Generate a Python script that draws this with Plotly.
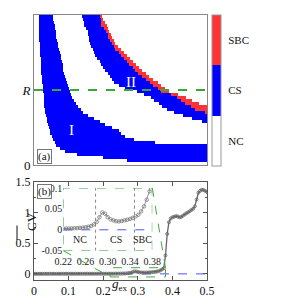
import numpy as np
import plotly.graph_objects as go

# ---------------- data ----------------
# Panel (a): state map on a grid of rows (y = 0..50, one unit per row)
# band I (CS) left/right g_ex bounds per row, rows 0..49
band1_left = [None, 0.27, 0.20, 0.125, 0.090, 0.075, 0.066, 0.061, 0.056, 0.052,
              0.048, 0.045, 0.042, 0.040, 0.038, 0.037, 0.035, 0.033, 0.032, 0.031,
              0.030, 0.029, 0.028, 0.027, 0.026, 0.025, 0.024, 0.023, 0.022, 0.022,
              0.021, 0.021, 0.020, 0.020, 0.019, 0.019, 0.018, 0.018, 0.017, 0.017,
              0.017, 0.016, 0.016, 0.015, 0.015, 0.015, 0.015, 0.015, 0.0145, 0.0145]
band1_right = [None, 0.5, 0.5, 0.5, 0.5, 0.5, 0.5, 0.35, 0.29, 0.262,
               0.25, 0.245, 0.225, 0.205, 0.19, 0.172, 0.155, 0.143, 0.134, 0.127,
               0.121, 0.116, 0.111, 0.107, 0.104, 0.100, 0.097, 0.094, 0.092, 0.090,
               0.088, 0.086, 0.084, 0.082, 0.080, 0.078, 0.077, 0.075, 0.073, 0.071,
               0.069, 0.067, 0.066, 0.064, 0.062, 0.060, 0.059, 0.057, 0.055, 0.054]
# band II: CS start, SBC start (None = no SBC), SBC end, rows 0..49
band2_start = [None] * 14 + [
    0.4855, 0.458, 0.429, 0.404, 0.384, 0.371, 0.359, 0.348, 0.337, 0.3165,
    0.298, 0.262, 0.244, 0.233, 0.224, 0.219, 0.213, 0.206, 0.200, 0.1945,
    0.189, 0.183, 0.178, 0.1725, 0.169, 0.1656, 0.162, 0.160, 0.159, 0.1575,
    0.154, 0.149, 0.146, 0.1445, 0.142, 0.141]
band2_sbc_start = [None] * 17 + [
    0.494, 0.466, 0.455, 0.4355, 0.426, 0.413, 0.394, 0.367, 0.3575, 0.3457,
    0.334, 0.3237, 0.312, 0.301, 0.2925, 0.284, 0.275, 0.2676, 0.260, 0.252,
    0.244, 0.234, 0.229, 0.2246, 0.220, 0.216, 0.2118, 0.208, 0.2017, 0.196,
    0.194, 0.1916, 0.1893]
band2_sbc_end = [None] * 17 + [
    0.5, 0.5, 0.5, 0.4775, 0.458, 0.439, 0.416, 0.389, 0.3806, 0.368,
    0.3564, 0.345, 0.3335, 0.3237, 0.3116, 0.303, 0.2945, 0.2847, 0.277, 0.268,
    0.2595, 0.251, 0.2416, 0.2344, 0.230, 0.2257, 0.2217, 0.2176, 0.2136, 0.209,
    0.2043, 0.1997, 0.1965]
state_labels = ["NC", "CS", "SBC"]
R_value = 25

# Panel (b): mean CV vs g_ex
g_ex = [round(0.005 * k, 3) for k in range(101)]
cv = [0.0005, 0.0005, 0.0006, 0.0006, 0.0007, 0.0008, 0.0007, 0.0008, 0.0009, 0.0009,
      0.0010, 0.0011, 0.0010, 0.0011, 0.0012, 0.0012, 0.0013, 0.0012, 0.0014, 0.0014,
      0.0015, 0.0016, 0.0015, 0.0016, 0.0017, 0.0017, 0.0018, 0.0019, 0.0018, 0.0019,
      0.0020, 0.0020, 0.0021, 0.0022, 0.0021, 0.0022, 0.0023, 0.0023, 0.0024, 0.0024,
      0.0025, 0.0026, 0.0025, 0.0026,
      0.0027, 0.0030, 0.0031, 0.0034, 0.0037, 0.0040, 0.0045, 0.0052, 0.0060, 0.0072,
      0.0090, 0.0130, 0.0190, 0.0300, 0.0415, 0.0385, 0.0300, 0.0250, 0.0225, 0.0205,
      0.0200, 0.0210, 0.0225, 0.0240, 0.0260, 0.0285, 0.0320, 0.0360, 0.0440, 0.0560,
      0.0720, 0.0920, 0.3000, 0.6500, 0.8400, 0.9000, 0.9200, 0.9300, 0.9400, 0.9350,
      0.9200, 0.9250, 0.9450, 0.9650, 0.9850, 1.0000, 1.0200, 1.0400, 1.0600, 1.1000,
      1.2100, 1.3200, 1.3500, 1.3700, 1.3650, 1.3500, 1.3300]
inset_xrange = [0.22, 0.38]
inset_yrange = [-0.05, 0.1]
inset_xticks = [0.22, 0.26, 0.30, 0.34, 0.38]
inset_yticks = [-0.05, 0, 0.05, 0.1]
inset_yticktext = ["-0.05", "0", "0.05", "0.1"]
nc_cs_boundary = 0.278
cs_sbc_boundary = 0.348

# ---------------- build heatmap grid ----------------
g_cols = np.arange(0.00125, 0.5, 0.0025)
z = np.zeros((50, len(g_cols)))
for i in range(50):
    if band1_left[i] is not None:
        z[i, (g_cols >= band1_left[i]) & (g_cols < band1_right[i])] = 1
    if band2_start[i] is not None:
        b = band2_sbc_start[i] if band2_sbc_start[i] is not None else 0.5001
        z[i, (g_cols >= band2_start[i]) & (g_cols < b)] = 1
        if band2_sbc_start[i] is not None:
            z[i, (g_cols >= b) & (g_cols < band2_sbc_end[i] + 0.0001)] = 2
y_rows = np.arange(50) + 0.5

# page has an 8px body margin: figure is placed at (8, 8)
OFF = 8
W, H = 281 - OFF, 301 - OFF


def PX(px):
    return (px - OFF) / W


def PY(py):
    return 1 - (py - OFF) / H


SERIF = "Liberation Serif"
xdom = [PX(34), PX(207)]
ya_dom = [PY(165), PY(15)]
yb_dom = [PY(280), PY(181.7)]
x3_dom = [PX(63.3), PX(152.3)]
y3_dom = [PY(250.7), PY(188)]
yb_range = [-0.1, 1.5]
xb_range = [0, 0.5]

GREEN = "#45a845"
BLUE_D = "#4a55ff"
GRAY = "#666666"

fig = go.Figure()

fig.add_trace(go.Heatmap(
    x=g_cols, y=y_rows, z=z, zmin=-0.5, zmax=2.5,
    colorscale=[[0, "#ffffff"], [1 / 3, "#ffffff"], [1 / 3, "#0000ff"],
                [2 / 3, "#0000ff"], [2 / 3, "#ff3333"], [1, "#ff3333"]],
    xaxis="x", yaxis="y", hoverinfo="skip",
    colorbar=dict(x=PX(212), xanchor="left", y=PY(90.5), yanchor="middle",
                  len=151 / H, lenmode="fraction", thickness=9, thicknessmode="pixels",
                  xpad=0, ypad=0, outlinewidth=1, outlinecolor="#999999",
                  tickvals=[0, 1, 2], ticktext=state_labels,
                  ticks="outside", ticklen=5, tickcolor="rgba(0,0,0,0)",
                  tickfont=dict(family=SERIF, size=11, color="#111111")),
))

fig.add_trace(go.Scatter(
    x=g_ex, y=cv, mode="lines+markers", xaxis="x2", yaxis="y2",
    line=dict(color=GRAY, width=1.3),
    marker=dict(symbol="circle-open", size=3, color=GRAY, line=dict(width=0.8)),
    hoverinfo="skip", showlegend=False,
))

ins_x = [g for g in g_ex if 0.215 <= g <= 0.385]
ins_y = [v for g, v in zip(g_ex, cv) if 0.215 <= g <= 0.385]
fig.add_trace(go.Scatter(
    x=ins_x, y=ins_y, mode="lines+markers", xaxis="x3", yaxis="y3",
    line=dict(color="#777777", width=0.8),
    marker=dict(symbol="circle-open", size=3.5, color="#777777", line=dict(width=0.8)),
    hoverinfo="skip", showlegend=False,
))

axfont = dict(family=SERIF, size=12, color="#111111")
fig.update_layout(
    width=W, height=H, margin=dict(l=0, r=0, t=0, b=0, autoexpand=False),
    paper_bgcolor="white", plot_bgcolor="white", showlegend=False,
    xaxis=dict(domain=xdom, range=[0, 0.5], showticklabels=False, ticks="",
               showgrid=False, zeroline=False, showline=True, mirror=True,
               linecolor="#888888", linewidth=1, anchor="y", automargin=False),
    yaxis=dict(domain=ya_dom, range=[0, 50], tickvals=[0, R_value, 50],
               ticktext=["0", "<i>R</i>", "50"], ticks="", showgrid=False,
               zeroline=False, showline=True, mirror=True, linecolor="#888888",
               linewidth=1, tickfont=dict(family=SERIF, size=13, color="#111111"),
               anchor="x", automargin=False),
    xaxis2=dict(domain=xdom, range=xb_range, tickvals=[0, 0.1, 0.2, 0.3, 0.4, 0.5],
                ticktext=["0", "0.1", "0.2", "0.3", "0.4", "0.5"],
                ticks="inside", ticklen=4, tickcolor="#555555", showgrid=False,
                zeroline=False, showline=True, mirror="ticks", linecolor="#555555",
                linewidth=1, tickfont=axfont, anchor="y2", automargin=False),
    yaxis2=dict(domain=yb_dom, range=yb_range, tickvals=[0, 0.5, 1, 1.5],
                ticktext=["0", "0.5", "1", "1.5"],
                ticks="inside", ticklen=4, tickcolor="#555555", showgrid=False,
                minor=dict(ticks="inside", dtick=0.25, ticklen=2, tickcolor="#555555"),
                zeroline=False, showline=True, mirror="ticks", linecolor="#555555",
                linewidth=1, tickfont=axfont, anchor="x2", automargin=False),
    xaxis3=dict(domain=x3_dom, range=inset_xrange, tickvals=inset_xticks,
                ticktext=["%.2f" % t for t in inset_xticks], ticks="",
                ticklabelstandoff=3,
                showgrid=False, zeroline=False, showline=False, automargin=False,
                tickfont=dict(family=SERIF, size=10, color="#222222"), anchor="y3"),
    yaxis3=dict(domain=y3_dom, range=inset_yrange, tickvals=inset_yticks,
                ticktext=inset_yticktext, ticks="", showgrid=False, zeroline=False,
                showline=False, automargin=False,
                tickfont=dict(family=SERIF, size=10, color="#222222"),
                anchor="x3"),
)


def bx(g):
    return xdom[0] + (g - xb_range[0]) / (xb_range[1] - xb_range[0]) * (xdom[1] - xdom[0])


def by(v):
    return yb_dom[0] + (v - yb_range[0]) / (yb_range[1] - yb_range[0]) * (yb_dom[1] - yb_dom[0])


shapes = [
    dict(type="line", xref="x", yref="y", x0=0, x1=0.5, y0=R_value, y1=R_value,
         line=dict(color="#35a835", width=2, dash="dash")),
    dict(type="line", xref="x2", yref="y2", x0=0, x1=0.5, y0=0, y1=0,
         line=dict(color=BLUE_D, width=1, dash="dash"), layer="below"),
    dict(type="rect", xref="x2", yref="y2", x0=inset_xrange[0], x1=inset_xrange[1],
         y0=inset_yrange[0], y1=inset_yrange[1],
         line=dict(color=GREEN, width=1, dash="dash")),
    dict(type="line", xref="x3", yref="y3", x0=inset_xrange[0], x1=inset_xrange[1],
         y0=0, y1=0, line=dict(color=BLUE_D, width=1, dash="dash"), layer="below"),
    dict(type="line", xref="x3", yref="y3", x0=nc_cs_boundary, x1=nc_cs_boundary,
         y0=inset_yrange[0], y1=inset_yrange[1],
         line=dict(color="#888888", width=1, dash="dot"), layer="below"),
    dict(type="line", xref="x3", yref="y3", x0=cs_sbc_boundary, x1=cs_sbc_boundary,
         y0=inset_yrange[0], y1=inset_yrange[1],
         line=dict(color="#888888", width=1, dash="dot"), layer="below"),
    dict(type="rect", xref="x3", yref="y3", x0=inset_xrange[0], x1=inset_xrange[1],
         y0=inset_yrange[0], y1=inset_yrange[1],
         line=dict(color=GREEN, width=1, dash="dash")),
    dict(type="line", xref="paper", yref="paper", x0=x3_dom[0], y0=y3_dom[0],
         x1=bx(inset_xrange[0]), y1=by(inset_yrange[0]),
         line=dict(color=GREEN, width=1, dash="dash")),
    dict(type="line", xref="paper", yref="paper", x0=x3_dom[1], y0=y3_dom[1],
         x1=bx(inset_xrange[1]), y1=by(inset_yrange[1]),
         line=dict(color=GREEN, width=1, dash="dash")),
    # overline of the CV label
    dict(type="line", xref="paper", yref="paper", x0=PX(17), x1=PX(17),
         y0=PY(240), y1=PY(225.5), line=dict(color="#111111", width=1)),
]
fig.update_layout(shapes=shapes)

ann = [
    dict(text="I", x=0.109, y=11.7, xref="x", yref="y", showarrow=False,
         font=dict(family=SERIF, size=15, color="white")),
    dict(text="II", x=0.281, y=27.6, xref="x", yref="y", showarrow=False,
         font=dict(family=SERIF, size=15, color="white")),
    dict(text="(a)", x=PX(36.5), y=PY(163.5), xref="paper", yref="paper",
         xanchor="left", yanchor="bottom", showarrow=False, bgcolor="white",
         bordercolor="#777777", borderwidth=1, borderpad=0,
         font=dict(family=SERIF, size=11, color="#111111")),
    dict(text="(b)", x=PX(36.5), y=PY(183.5), xref="paper", yref="paper",
         xanchor="left", yanchor="top", showarrow=False, bgcolor="white",
         bordercolor="#777777", borderwidth=1, borderpad=0,
         font=dict(family=SERIF, size=11, color="#111111")),
    dict(text="NC", x=0.250, y=-0.023, xref="x3", yref="y3", showarrow=False,
         font=dict(family=SERIF, size=10, color="#222222")),
    dict(text="CS", x=0.315, y=-0.023, xref="x3", yref="y3", showarrow=False,
         font=dict(family=SERIF, size=10, color="#222222")),
    dict(text="SBC", x=0.3625, y=-0.023, xref="x3", yref="y3", showarrow=False,
         font=dict(family=SERIF, size=10, color="#222222")),
    dict(text="<i>g</i><sub>ex</sub>", x=PX(120), y=PY(295), xref="paper",
         yref="paper", showarrow=False,
         font=dict(family=SERIF, size=13, color="#111111")),
    dict(text="CV", x=PX(22), y=PY(233), xref="paper", yref="paper",
         textangle=-90, showarrow=False,
         font=dict(family=SERIF, size=13, color="#111111")),
]
fig.update_layout(annotations=ann)

fig.write_html("out.html")
